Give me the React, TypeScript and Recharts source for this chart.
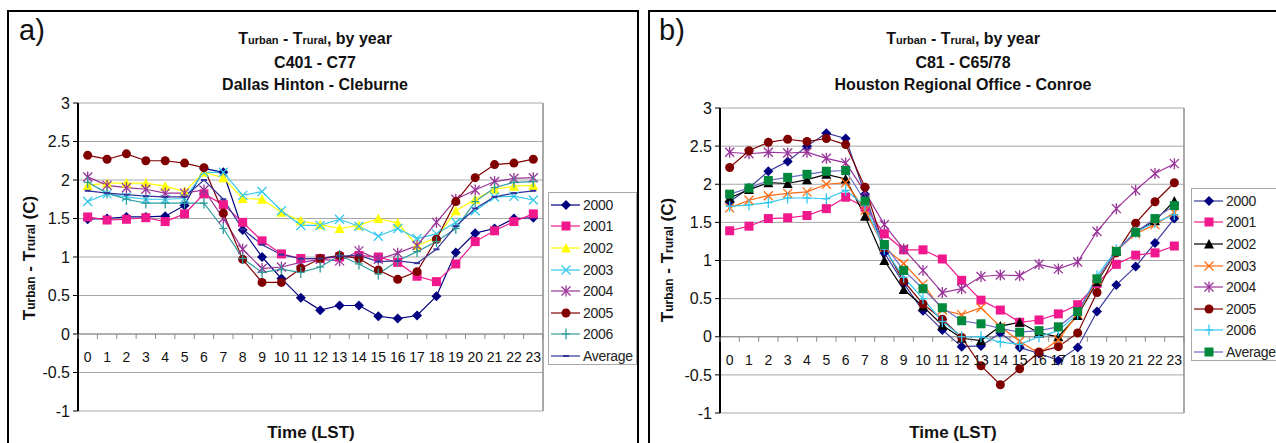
import React from "react";
import {
  CartesianGrid,
  Legend,
  Line,
  LineChart,
  ReferenceLine,
  XAxis,
  YAxis,
} from "recharts";

// hour of day (LST)
const hours = [
  "0", "1", "2", "3", "4", "5", "6", "7", "8", "9", "10", "11",
  "12", "13", "14", "15", "16", "17", "18", "19", "20", "21", "22", "23",
];
const yTicks = [-1, -0.5, 0, 0.5, 1, 1.5, 2, 2.5, 3];

// a) Dallas Hinton - Cleburne
const dallas2000 = [1.49, 1.5, 1.52, 1.52, 1.53, 1.67, 2.15, 2.1, 1.35, 1.0, 0.72, 0.47, 0.31, 0.37, 0.37, 0.23, 0.2, 0.24, 0.49, 1.06, 1.31, 1.37, 1.5, 1.51];
const dallas2001 = [1.52, 1.48, 1.49, 1.51, 1.46, 1.56, 1.82, 1.68, 1.45, 1.21, 1.04, 0.98, 0.98, 1.0, 1.02, 1.0, 0.93, 0.75, 0.68, 0.91, 1.2, 1.34, 1.46, 1.56];
const dallas2002 = [1.93, 1.96, 1.96, 1.96, 1.92, 1.85, 2.1, 2.03, 1.76, 1.75, 1.58, 1.47, 1.42, 1.37, 1.41, 1.5, 1.44, 1.15, 1.25, 1.6, 1.75, 1.88, 1.92, 1.93];
const dallas2003 = [1.72, 1.82, 1.78, 1.75, 1.75, 1.76, 2.1, 2.1, 1.8, 1.85, 1.6, 1.41, 1.41, 1.49, 1.4, 1.27, 1.37, 1.24, 1.3, 1.45, 1.6, 1.78, 1.79, 1.74];
const dallas2004 = [2.04, 1.93, 1.9, 1.88, 1.83, 1.83, 1.87, 1.5, 1.1, 0.85, 0.87, 0.93, 0.97, 0.95, 1.08, 0.97, 1.05, 1.15, 1.45, 1.75, 1.87, 1.98, 2.02, 2.03];
const dallas2005 = [2.32, 2.27, 2.34, 2.25, 2.25, 2.22, 2.16, 1.57, 0.97, 0.67, 0.67, 0.85, 0.98, 1.02, 0.98, 0.83, 0.71, 0.81, 1.23, 1.72, 2.03, 2.2, 2.22, 2.27];
const dallas2006 = [1.97, 1.83, 1.75, 1.7, 1.7, 1.7, 1.7, 1.37, 0.98, 0.8, 0.84, 0.8, 0.87, 1.02, 0.91, 0.78, 0.95, 1.07, 1.2, 1.37, 1.72, 1.9, 1.97, 1.98];
const dallasAvg = [1.86, 1.83, 1.81, 1.79, 1.78, 1.78, 2.0, 1.75, 1.36, 1.16, 1.03, 0.98, 0.98, 1.01, 1.02, 0.94, 0.95, 0.92, 1.1, 1.4, 1.63, 1.78, 1.83, 1.86];

// b) Houston Regional Office - Conroe
const houston2000 = [1.77, 1.95, 2.17, 2.3, 2.5, 2.67, 2.6, 1.87, 1.1, 0.7, 0.34, 0.09, -0.13, -0.12, 0.05, -0.14, -0.22, -0.31, -0.14, 0.33, 0.68, 0.92, 1.23, 1.55];
const houston2001 = [1.39, 1.45, 1.55, 1.56, 1.59, 1.68, 1.83, 1.7, 1.35, 1.14, 1.14, 1.02, 0.74, 0.48, 0.35, 0.19, 0.22, 0.3, 0.42, 0.7, 0.95, 1.07, 1.1, 1.19];
const houston2002 = [1.82, 1.93, 2.02, 2.01, 2.06, 2.13, 2.07, 1.58, 1.0, 0.62, 0.4, 0.15, -0.02, -0.05, 0.14, 0.19, 0.05, 0.0, 0.28, 0.72, 1.12, 1.38, 1.52, 1.78];
const houston2003 = [1.69, 1.79, 1.85, 1.88, 1.9, 2.0, 2.02, 1.66, 1.17, 0.96, 0.69, 0.35, 0.29, 0.38, 0.13, -0.06, -0.22, -0.04, 0.3, 0.74, 1.13, 1.35, 1.47, 1.63];
const houston2004 = [2.42, 2.4, 2.42, 2.41, 2.42, 2.34, 2.28, 1.9, 1.47, 1.15, 0.87, 0.58, 0.63, 0.79, 0.81, 0.8, 0.95, 0.89, 0.98, 1.38, 1.68, 1.92, 2.14, 2.27];
const houston2005 = [2.22, 2.44, 2.55, 2.59, 2.56, 2.6, 2.52, 1.96, 1.17, 0.73, 0.43, 0.23, -0.01, -0.38, -0.63, -0.42, -0.2, -0.13, 0.05, 0.58, 1.1, 1.49, 1.77, 2.02];
const houston2006 = [1.71, 1.73, 1.76, 1.82, 1.82, 1.81, 1.92, 1.72, 1.15, 0.78, 0.5, 0.2, 0.0, 0.0, -0.07, -0.1, 0.0, 0.08, 0.3, 0.8, 1.14, 1.37, 1.5, 1.6];
const houstonAvg = [1.87, 1.95, 2.05, 2.09, 2.13, 2.17, 2.18, 1.78, 1.21, 0.87, 0.63, 0.38, 0.21, 0.17, 0.11, 0.06, 0.08, 0.13, 0.33, 0.76, 1.12, 1.37, 1.55, 1.72];

type Series = { key: string; values: number[]; line: string; fill: string; marker: string };

const dallasSeries: Series[] = [
  { key: "2000", values: dallas2000, line: "#000080", fill: "#000080", marker: "diamond" },
  { key: "2001", values: dallas2001, line: "#f0188c", fill: "#f0188c", marker: "square" },
  { key: "2002", values: dallas2002, line: "#ffff00", fill: "#ffff00", marker: "triangle" },
  { key: "2003", values: dallas2003, line: "#33c8ec", fill: "#33c8ec", marker: "x" },
  { key: "2004", values: dallas2004, line: "#993399", fill: "#993399", marker: "star" },
  { key: "2005", values: dallas2005, line: "#800000", fill: "#800000", marker: "circle" },
  { key: "2006", values: dallas2006, line: "#2f9c9c", fill: "#2f9c9c", marker: "plus" },
  { key: "Average", values: dallasAvg, line: "#333399", fill: "#333399", marker: "dash" },
];

const houstonSeries: Series[] = [
  { key: "2000", values: houston2000, line: "#3a3a9c", fill: "#000080", marker: "diamond" },
  { key: "2001", values: houston2001, line: "#f0188c", fill: "#f0188c", marker: "square" },
  { key: "2002", values: houston2002, line: "#000000", fill: "#000000", marker: "triangle" },
  { key: "2003", values: houston2003, line: "#ff6a10", fill: "#ff6a10", marker: "x" },
  { key: "2004", values: houston2004, line: "#993399", fill: "#993399", marker: "star" },
  { key: "2005", values: houston2005, line: "#800000", fill: "#800000", marker: "circle" },
  { key: "2006", values: houston2006, line: "#33c8f0", fill: "#33c8f0", marker: "plus" },
  { key: "Average", values: houstonAvg, line: "#6a6ac8", fill: "#00883c", marker: "square" },
];

const toRows = (series: Series[]) =>
  hours.map((h, i) => {
    const row: Record<string, any> = { hour: h };
    series.forEach((s) => (row[s.key] = s.values[i]));
    return row;
  });

const FONT = "'Liberation Sans', Arial, sans-serif";

function Marker({ kind, cx, cy, color }: { kind: string; cx: number; cy: number; color: string }) {
  const r = 4.5;
  switch (kind) {
    case "diamond":
      return <polygon points={`${cx},${cy - 5} ${cx + 5},${cy} ${cx},${cy + 5} ${cx - 5},${cy}`} fill={color} />;
    case "square":
      return <rect x={cx - 4.5} y={cy - 4.5} width={9} height={9} fill={color} />;
    case "triangle":
      return <polygon points={`${cx},${cy - 5} ${cx + 5},${cy + 4.5} ${cx - 5},${cy + 4.5}`} fill={color} />;
    case "circle":
      return <circle cx={cx} cy={cy} r={r} fill={color} />;
    case "x":
      return (
        <g stroke={color} strokeWidth={1.3}>
          <line x1={cx - r} y1={cy - r} x2={cx + r} y2={cy + r} />
          <line x1={cx - r} y1={cy + r} x2={cx + r} y2={cy - r} />
        </g>
      );
    case "star":
      return (
        <g stroke={color} strokeWidth={1.3}>
          <line x1={cx - r} y1={cy - r} x2={cx + r} y2={cy + r} />
          <line x1={cx - r} y1={cy + r} x2={cx + r} y2={cy - r} />
          <line x1={cx} y1={cy - 5.5} x2={cx} y2={cy + 5.5} />
        </g>
      );
    case "plus":
      return (
        <g stroke={color} strokeWidth={1.3}>
          <line x1={cx} y1={cy - 5.5} x2={cx} y2={cy + 5.5} />
          <line x1={cx - 4} y1={cy} x2={cx + 4} y2={cy} />
        </g>
      );
    case "dash":
      return <line x1={cx - 3} y1={cy} x2={cx + 3} y2={cy} stroke={color} strokeWidth={2} />;
    default:
      return null;
  }
}

function LegendBox({ series, width }: { series: Series[]; width: number }) {
  return (
    <div
      style={{
        width,
        height: 173,
        boxSizing: "border-box",
        border: "1px solid #a8a8a8",
        background: "#fff",
        paddingTop: 1,
        fontFamily: FONT,
      }}
    >
      {series.map((s) => (
        <div key={s.key} style={{ display: "flex", alignItems: "center", height: 21.6 }}>
          <svg width={34} height={14} style={{ flex: "none" }}>
            <line x1={2} x2={31} y1={7} y2={7} stroke={s.line} strokeWidth={1.2} />
            <Marker kind={s.marker} cx={17} cy={7} color={s.fill} />
          </svg>
          <span style={{ fontSize: 14, color: "#222", letterSpacing: -0.3 }}>{s.key}</span>
        </div>
      ))}
    </div>
  );
}

function HourTick(props: any) {
  const { x, y, payload, index, plotH, bw } = props;
  const zeroY = y - plotH / 4;
  return (
    <g>
      <line x1={x - bw / 2} x2={x - bw / 2} y1={zeroY} y2={zeroY + 5} stroke="#8a8a8a" />
      {index === hours.length - 1 && (
        <line x1={x + bw / 2} x2={x + bw / 2} y1={zeroY} y2={zeroY + 5} stroke="#8a8a8a" />
      )}
      <text x={x} y={zeroY + 28} textAnchor="middle" fontSize={14} fill="#111" fontFamily={FONT}>
        {payload.value}
      </text>
    </g>
  );
}

function Panel({
  series,
  width,
  margin,
  xHeight,
  legendLeft,
  legendTop,
  legendWidth,
}: {
  series: Series[];
  width: number;
  margin: { top: number; right: number; left: number; bottom: number };
  xHeight: number;
  legendLeft: number;
  legendTop: number;
  legendWidth: number;
}) {
  const height = 443;
  const plotH = height - margin.top - margin.bottom - xHeight;
  const plotW = width - margin.left - margin.right - 40;
  const bw = plotW / hours.length;
  return (
    <LineChart width={width} height={height} data={toRows(series)} margin={margin}>
      <CartesianGrid vertical={false} stroke="#a6a6a6" />
      {/* plot-area frame: left and right edges */}
      <CartesianGrid
        horizontal={false}
        stroke="#8c8c8c"
        strokeWidth={1.5}
        verticalCoordinatesGenerator={({ offset }: any) => [offset.left, offset.left + offset.width]}
      />
      <ReferenceLine y={0} stroke="#8a8a8a" />
      <XAxis
        dataKey="hour"
        height={xHeight}
        padding={{ left: bw / 2, right: bw / 2 }}
        axisLine={false}
        tickLine={false}
        tickSize={0}
        tickMargin={0}
        interval={0}
        tick={(p: any) => <HourTick {...p} plotH={plotH} bw={bw} />}
      />
      <YAxis
        width={40}
        domain={[-1, 3]}
        ticks={yTicks}
        interval={0}
        axisLine={{ stroke: "#000", strokeWidth: 2 }}
        tickLine={{ stroke: "#000" }}
        tickSize={5}
        tickMargin={3}
        tick={{ fontSize: 16, fill: "#111", fontFamily: FONT }}
      />
      <Legend
        layout="vertical"
        align="center"
        verticalAlign="middle"
        wrapperStyle={{ left: legendLeft, top: legendTop, width: legendWidth, height: 173 }}
        content={() => <LegendBox series={series} width={legendWidth} />}
      />
      {series.map((s) => (
        <Line
          key={s.key}
          dataKey={s.key}
          stroke={s.line}
          strokeWidth={1.2}
          isAnimationActive={false}
          dot={(p: any) => (
            <Marker key={`${s.key}-${p.index}`} kind={s.marker} cx={p.cx} cy={p.cy} color={s.fill} />
          )}
          activeDot={false}
        />
      ))}
    </LineChart>
  );
}

const sub = { fontSize: 11 };

function Title({ cx, station, name }: { cx: number; station: string; name: string }) {
  const line = (top: number, content: React.ReactNode) => (
    <div
      style={{
        position: "absolute",
        left: cx - 200,
        width: 400,
        top,
        textAlign: "center",
        fontSize: 16,
        lineHeight: "18px",
        fontWeight: "bold",
        whiteSpace: "nowrap",
      }}
    >
      {content}
    </div>
  );
  return (
    <>
      {line(30, <>T<span style={sub}>urban</span> - T<span style={sub}>rural</span>, by year</>)}
      {line(54, station)}
      {line(76, name)}
    </>
  );
}

function YTitle({ cx, cy }: { cx: number; cy: number }) {
  return (
    <div
      style={{
        position: "absolute",
        left: cx - 100,
        top: cy - 10,
        width: 200,
        height: 20,
        lineHeight: "20px",
        textAlign: "center",
        transform: "rotate(-90deg)",
        fontSize: 17,
        fontWeight: "bold",
        whiteSpace: "nowrap",
      }}
    >
      T<span style={{ fontSize: 12 }}>urban</span> - T<span style={{ fontSize: 12 }}>rural</span> (C)
    </div>
  );
}

function XTitle({ cx }: { cx: number }) {
  return (
    <div
      style={{
        position: "absolute",
        left: cx - 80,
        width: 160,
        top: 423,
        textAlign: "center",
        fontSize: 17,
        fontWeight: "bold",
        lineHeight: "20px",
      }}
    >
      Time (LST)
    </div>
  );
}

export default function App() {
  return (
    <div
      style={{
        position: "absolute",
        left: 0,
        top: 0,
        width: 1276,
        height: 443,
        overflow: "hidden",
        background: "#fff",
        fontFamily: FONT,
        color: "#111",
      }}
    >
      <div style={{ position: "absolute", left: 7, top: 10, width: 632, height: 460, border: "2px solid #000", boxSizing: "border-box" }} />
      <div style={{ position: "absolute", left: 648, top: 10, width: 660, height: 460, border: "2px solid #000", boxSizing: "border-box" }} />

      <div style={{ position: "absolute", left: 0, top: 0 }}>
        <Panel
          series={dallasSeries}
          width={645}
          margin={{ top: 103, right: 102, left: 38, bottom: 0 }}
          xHeight={32}
          legendLeft={548}
          legendTop={192}
          legendWidth={89}
        />
      </div>
      <div style={{ position: "absolute", left: 645, top: 0 }}>
        <Panel
          series={houstonSeries}
          width={631}
          margin={{ top: 108, right: 92, left: 35, bottom: 0 }}
          xHeight={30}
          legendLeft={546}
          legendTop={188}
          legendWidth={100}
        />
      </div>

      <div style={{ position: "absolute", left: 19, top: 15, fontSize: 29, lineHeight: "30px" }}>a)</div>
      <div style={{ position: "absolute", left: 659, top: 15, fontSize: 29, lineHeight: "30px" }}>b)</div>

      <Title cx={315} station="C401 - C77" name="Dallas Hinton - Cleburne" />
      <Title cx={963} station="C81 - C65/78" name="Houston Regional Office - Conroe" />

      <YTitle cx={30} cy={258} />
      <YTitle cx={668} cy={260} />

      <XTitle cx={311} />
      <XTitle cx={953} />
    </div>
  );
}
